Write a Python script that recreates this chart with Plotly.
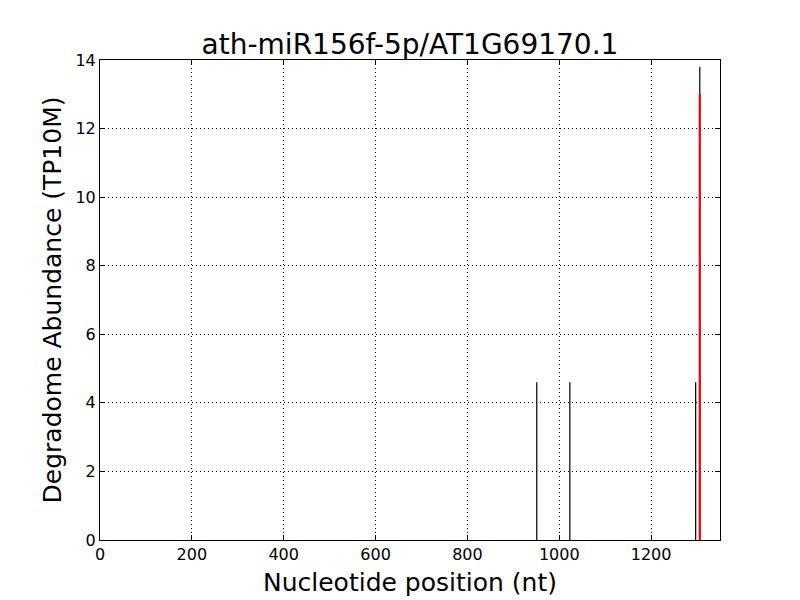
import plotly.graph_objects as go

# degradome tags (black stems)
tag_pos = [951, 1023, 1297, 1306]
tag_abund = [4.6, 4.6, 4.6, 13.8]
# predicted cleavage site (red stem)
site_pos = [1306]
site_abund = [13.0]

x_ticks = [0, 200, 400, 600, 800, 1000, 1200]
y_ticks = [0, 2, 4, 6, 8, 10, 12, 14]


def stems(xs, ys):
    sx, sy = [], []
    for x, y in zip(xs, ys):
        sx += [x, x, None]
        sy += [0, y, None]
    return sx, sy


fig = go.Figure()

bx, by = stems(tag_pos, tag_abund)
fig.add_trace(go.Scatter(x=bx, y=by, mode='lines',
                         line=dict(color='black', width=1.2),
                         showlegend=False, hoverinfo='skip'))

rx, ry = stems(site_pos, site_abund)
fig.add_trace(go.Scatter(x=rx, y=ry, mode='lines',
                         line=dict(color='red', width=2.2),
                         showlegend=False, hoverinfo='skip'))

axis_style = dict(
    showline=True, linecolor='black', linewidth=1, mirror='ticks',
    ticks='inside', ticklen=5, tickcolor='black', tickwidth=1,
    showgrid=True, gridcolor='black', gridwidth=1, griddash='1px,3px',
    zeroline=False, tickfont=dict(size=16, color='black'),
)

# page body has an 8px margin, so the margins are shifted to compensate
fig.update_layout(
    width=800, height=600,
    margin=dict(l=92, r=88, t=52, b=68),
    paper_bgcolor='white', plot_bgcolor='white',
    font=dict(family='DejaVu Sans', color='black'),
    title=dict(text='ath-miR156f-5p/AT1G69170.1', x=0.5, xanchor='center',
               y=(600 - 36) / 600, yanchor='middle', xref='paper',
               font=dict(size=28, color='black')),
    xaxis=dict(range=[0, 1350], tickvals=x_ticks,
               title=dict(text='Nucleotide position (nt)', font=dict(size=25), standoff=10),
               **axis_style),
    yaxis=dict(range=[0, 14], tickvals=y_ticks,
               title=dict(text='Degradome Abundance (TP10M)', font=dict(size=25), standoff=6),
               **axis_style),
)

fig.write_html("out.html")
